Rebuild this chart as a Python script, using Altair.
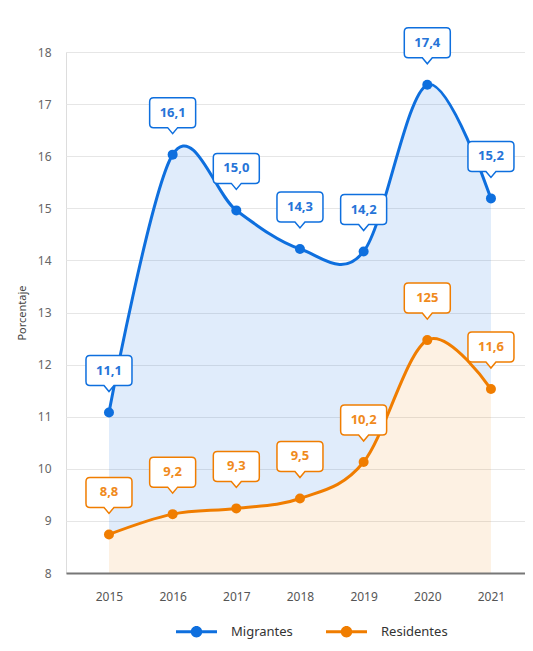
import altair as alt
import pandas as pd

# ---- data ----
years = ["2015", "2016", "2017", "2018", "2019", "2020", "2021"]
series = ["Migrantes", "Residentes"]
migrantes = [11.08, 16.03, 14.96, 14.22, 14.17, 17.37, 15.19]
residentes = [8.74, 9.13, 9.24, 9.43, 10.13, 12.47, 11.53]
migrantes_labels = ["11,1", "16,1", "15,0", "14,3", "14,2", "17,4", "15,2"]
residentes_labels = ["8,8", "9,2", "9,3", "9,5", "10,2", "125", "11,6"]
y_ticks = [8, 9, 10, 11, 12, 13, 14, 15, 16, 17, 18]
y_domain = [8, 18]

FONT = "Noto Sans"
line_colors = ["#0e6fde", "#f07d00"]
label_colors = ["#2674d8", "#f08a1c"]

rows = []
for s, vals, labs in [(series[0], migrantes, migrantes_labels),
                      (series[1], residentes, residentes_labels)]:
    for yr, v, lab in zip(years, vals, labs):
        rows.append({"year": yr, "serie": s, "value": v, "label": lab})
df = pd.DataFrame(rows)
wide = pd.DataFrame({"year": years, "migrantes": migrantes, "residentes": residentes})

# callout box shape (symbol path, scale 1 when size=4)
CALLOUT = ("M-19,-57 H19 Q23,-57 23,-53 V-31 Q23,-27 19,-27 H5 L0,-21 L-5,-27 "
           "H-19 Q-23,-27 -23,-31 V-53 Q-23,-57 -19,-57 Z")
# legend symbol: line with a dot
LEG = ("M-1,-0.07 L1,-0.07 L1,0.07 L-1,0.07 Z "
       "M-0.28,0 A0.28,0.28 0 1,1 0.28,0 A0.28,0.28 0 1,1 -0.28,0 Z")

x_enc = alt.X("year:O", title=None,
              scale=alt.Scale(type="point", padding=0.605, align=0.558),
              axis=alt.Axis(labelAngle=0, ticks=False, domain=True, domainColor="#777",
                            domainWidth=2, grid=False, labelColor="#555", labelFontSize=12,
                            labelFont=FONT, labelPadding=18, zindex=1))
y_axis = alt.Axis(values=y_ticks, domain=False, ticks=False, grid=True, gridColor="#e6e6e6",
                  gridWidth=1, labelColor="#666", labelFontSize=12, labelFont=FONT,
                  labelPadding=15, titleColor="#444", titleFontSize=11,
                  titleFontWeight="normal", titleFont=FONT, titlePadding=10)
y_scale = alt.Scale(domain=y_domain, zero=False, nice=False)


def y_enc(field):
    return alt.Y(f"{field}:Q", title="Porcentaje", scale=y_scale, axis=y_axis, stack=None)


area_mig = alt.Chart(wide).mark_area(interpolate="cardinal", color=line_colors[0],
                                     fillOpacity=0.13).encode(
    x=x_enc, y=y_enc("migrantes"), y2=alt.Y2("residentes:Q"))
area_res = alt.Chart(wide).mark_area(interpolate="cardinal", color=line_colors[1],
                                     fillOpacity=0.11).encode(
    x=x_enc, y=y_enc("residentes"), y2=alt.Y2Datum(8))

base = alt.Chart(df)
stroke_scale = alt.Scale(domain=series, range=line_colors)

lines = base.mark_line(interpolate="cardinal", strokeWidth=3).encode(
    x=x_enc, y=y_enc("value"),
    stroke=alt.Stroke("serie:N", scale=stroke_scale, legend=None))

# colour scale domain comes from the data, so this legend is not merged
# with the (disabled) stroke/fill legends
dots = base.mark_circle(size=100, opacity=1).encode(
    x=x_enc, y=y_enc("value"),
    color=alt.Color("serie:N", scale=alt.Scale(range=line_colors),
                    legend=alt.Legend(title=None, orient="none", legendX=110, legendY=559,
                                      direction="horizontal",
                                      symbolType=LEG, symbolSize=1681, symbolStrokeWidth=0,
                                      symbolOpacity=1, labelFont=FONT, labelFontSize=13,
                                      labelColor="#333", columnPadding=33, labelOffset=14)))

callouts = base.mark_point(shape=CALLOUT, size=4, filled=True, fill="white",
                           strokeWidth=1.5, opacity=1).encode(
    x=x_enc, y=y_enc("value"),
    stroke=alt.Stroke("serie:N", scale=stroke_scale, legend=None))

texts = base.mark_text(dy=-42, fontSize=13, fontWeight="bold", font=FONT,
                       baseline="middle").encode(
    x=x_enc, y=y_enc("value"), text="label:N",
    fill=alt.Fill("serie:N", scale=alt.Scale(domain=series, range=label_colors), legend=None))

chart = alt.layer(area_mig, area_res, lines, dots, callouts, texts).properties(
    width=459, height=521,
    padding={"left": 58, "top": 44, "right": 0, "bottom": 69},
    autosize=alt.AutoSizeParams(type="none"),
).configure_view(stroke=None).configure(font=FONT)

chart.save("out.html", embed_options={"renderer": "svg", "actions": False})
